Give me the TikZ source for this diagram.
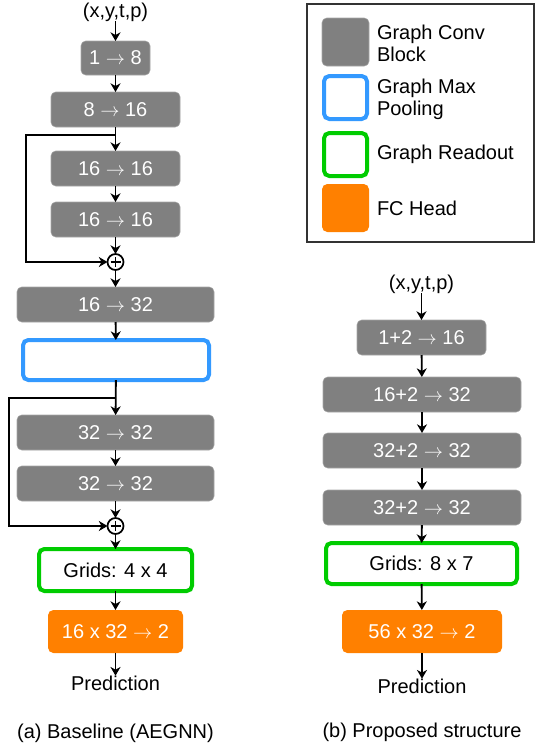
\documentclass[tikz,border=0pt]{standalone}
\usepackage{fontspec}
\setmainfont{Liberation Sans}
\usetikzlibrary{arrows.meta}
\definecolor{convgray}{HTML}{808080}
\definecolor{poolblue}{HTML}{3399FF}
\definecolor{readgreen}{HTML}{00CC00}
\definecolor{fcorange}{HTML}{FF8000}
\def\pxl{0.75pt}
\newcommand\rarr{\ensuremath{\rightarrow}}
\begin{document}
\begin{tikzpicture}[x=0.75pt,y=-0.75pt,
  every node/.style={font=\fontsize{15}{16.5}\selectfont, inner sep=0pt, outer sep=0pt},
  conv/.style={rectangle, rounded corners=3.5pt, fill=convgray, draw=convgray!70!white, line width=0.4pt, text=white, minimum height=35*\pxl},
  pool/.style={rectangle, rounded corners=4pt, fill=white, draw=poolblue, line width=4*\pxl},
  readout/.style={rectangle, rounded corners=4pt, fill=white, draw=readgreen, line width=4*\pxl},
  fchead/.style={rectangle, rounded corners=4pt, fill=fcorange, text=white, minimum height=43*\pxl},
  plus/.style={circle, draw, fill=white, line width=1.3pt, minimum size=16*\pxl,
    path picture={\draw[line width=1.3pt] ([xshift=-5*\pxl]path picture bounding box.center) -- ([xshift=5*\pxl]path picture bounding box.center)
      ([yshift=-5*\pxl]path picture bounding box.center) -- ([yshift=5*\pxl]path picture bounding box.center);}},
  flow/.style={-{Stealth[length=6.5pt,width=7.5pt,inset=2pt]}, line width=1.4pt},
]
\useasboundingbox (0,0) rectangle (535,747);

% ---------- left column ----------
\node (inA) at (115.5,12) {(x,y,t,p)};
\node[conv, minimum width=69*\pxl, minimum height=34*\pxl] (a1) at (115.5,58) {1 \rarr{} 8};
\node[conv, minimum width=129*\pxl] (a2) at (115.5,109.5) {8 \rarr{} 16};
\node[conv, minimum width=129*\pxl] (a3) at (115.5,168.5) {16 \rarr{} 16};
\node[conv, minimum width=129*\pxl] (a4) at (115.5,219.5) {16 \rarr{} 16};
\node[plus] (p1) at (115.5,262) {};
\node[conv, minimum width=197*\pxl] (a5) at (115.5,304.5) {16 \rarr{} 32};
\node[pool, minimum width=186*\pxl, minimum height=40*\pxl] (poolA) at (116,360) {};
\node[conv, minimum width=197*\pxl] (a6) at (115.5,432.5) {32 \rarr{} 32};
\node[conv, minimum width=197*\pxl] (a7) at (115.5,483.5) {32 \rarr{} 32};
\node[plus] (p2) at (115.5,526) {};
\node[readout, minimum width=153*\pxl, minimum height=42*\pxl] (readA) at (115.5,570) {Grids: 4 x 4};
\node[fchead, minimum width=135*\pxl] (fcA) at (115.5,631.5) {16 x 32 \rarr{} 2};
\node (predA) at (115.5,683) {Prediction};
\node (capA) at (115.5,733) {(a) Baseline (AEGNN)};

\coordinate (j1) at (115.5,135);
\coordinate (k1) at (26,135);
\coordinate (k2) at (26,262);
\coordinate (j2) at (115.5,398);
\coordinate (m1) at (9,398);
\coordinate (m2) at (9,526);

\draw[flow] (inA) -- (a1);
\draw[flow] (a1) -- (a2);
\draw[flow] (a2) -- (a3);
\draw[flow] (a3) -- (a4);
\draw[flow] (a4) -- (p1);
\draw[flow] (j1) -- (k1) -- (k2) -- (p1.west);
\draw[flow] (p1) -- (a5);
\draw[flow] (a5) -- (poolA);
\draw[flow] (poolA) -- (a6);
\draw[flow] (a6) -- (a7);
\draw[flow] (a7) -- (p2);
\draw[flow] (j2) -- (m1) -- (m2) -- (p2.west);
\draw[flow] (p2) -- (readA);
\draw[flow] (readA) -- (fcA);
\draw[flow] (fcA) -- (predA);

% ---------- right column ----------
\node (inB) at (421.5,284) {(x,y,t,p)};
\node[conv, minimum width=129*\pxl] (b1) at (421.5,337.5) {1+2 \rarr{} 16};
\node[conv, minimum width=198*\pxl] (b2) at (422,394.5) {16+2 \rarr{} 32};
\node[conv, minimum width=198*\pxl] (b3) at (422,450.5) {32+2 \rarr{} 32};
\node[conv, minimum width=198*\pxl] (b4) at (422,507.5) {32+2 \rarr{} 32};
\node[readout, minimum width=191*\pxl, minimum height=41*\pxl] (readB) at (421.5,563.5) {Grids: 8 x 7};
\node[fchead, minimum width=160*\pxl] (fcB) at (422,631.5) {56 x 32 \rarr{} 2};
\node (predB) at (422,686) {Prediction};
\node (capB) at (422,732) {(b) Proposed structure};

\draw[flow] (inB) -- (b1);
\draw[flow] (b1) -- (b2);
\draw[flow] (b2) -- (b3);
\draw[flow] (b3) -- (b4);
\draw[flow] (b4) -- (readB);
\draw[flow] (readB) -- (fcB);
\draw[flow] (fcB) -- (predB);

% ---------- legend ----------
\node[rectangle, draw=black!80, line width=0.8pt, minimum width=227*\pxl, minimum height=238*\pxl] (legend) at (420.5,123) {};
\node[conv, minimum width=47*\pxl, minimum height=48*\pxl] (lg1) at (345.5,42) {};
\node[pool, minimum width=43*\pxl, minimum height=43*\pxl] (lg2) at (345.5,97.5) {};
\node[readout, minimum width=43*\pxl, minimum height=43*\pxl] (lg3) at (345.5,154.5) {};
\node[fchead, minimum width=47*\pxl, minimum height=48*\pxl] (lg4) at (345.5,208) {};
\node[anchor=west, align=left] (lt1) at (377,43) {Graph Conv\\Block};
\node[anchor=west, align=left] (lt2) at (377,99) {Graph Max\\Pooling};
\node[anchor=west] (lt3) at (377,154.5) {Graph Readout};
\node[anchor=west] (lt4) at (377,208) {FC Head};
\end{tikzpicture}
\end{document}
